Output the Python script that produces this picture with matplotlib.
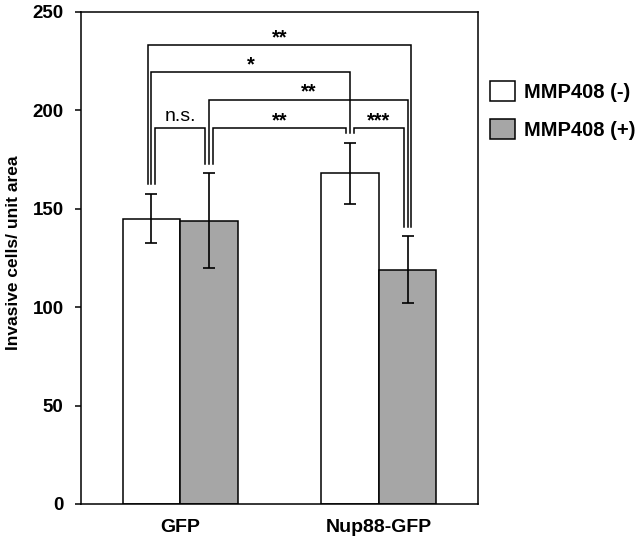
import matplotlib
matplotlib.use('Agg')
import matplotlib.pyplot as plt
import numpy as np

plt.rcParams['font.family'] = ['Liberation Sans', 'DejaVu Sans']

groups = ['GFP', 'Nup88-GFP']
series_labels = ['MMP408 (-)', 'MMP408 (+)']
mmp_minus = [145, 168]
mmp_minus_err = [12.5, 15.5]
mmp_plus = [144, 119]
mmp_plus_err = [24, 17]
y_ticks = [0, 50, 100, 150, 200, 250]

# significance comparisons between bars (0: GFP-, 1: GFP+, 2: Nup88-, 3: Nup88+)
comp_a = [0, 0, 1, 0, 1, 2]
comp_b = [3, 2, 3, 1, 2, 3]
comp_labels = ['**', '*', '**', 'n.s.', '**', '***']

# layout of the brackets
d = 0.018
leg_off_a = [-d, 0, 0, d, d, d]
leg_off_b = [d, 0, 0, -d, -d, -d]
bracket_y = [233, 219.5, 205.5, 191, 191, 191]

fig = plt.figure(figsize=(6.44, 5.43), dpi=100)
ax = fig.add_axes([81/644, 39/543, 397/644, 492/543])

x = np.arange(len(groups))
w = 0.29
ekw = dict(elinewidth=1.2, capthick=1.2, ecolor='black')
ax.bar(x - w/2, mmp_minus, w, color='white', edgecolor='black', linewidth=1.1,
       yerr=mmp_minus_err, capsize=4, error_kw=ekw, label=series_labels[0])
ax.bar(x + w/2, mmp_plus, w, color='#a6a6a6', edgecolor='black', linewidth=1.1,
       yerr=mmp_plus_err, capsize=4, error_kw=ekw, label=series_labels[1])

centers = [x[0] - w/2, x[0] + w/2, x[1] - w/2, x[1] + w/2]
tops = [mmp_minus[0] + mmp_minus_err[0], mmp_plus[0] + mmp_plus_err[0],
        mmp_minus[1] + mmp_minus_err[1], mmp_plus[1] + mmp_plus_err[1]]

for a, b, lab, oa, ob, yb in zip(comp_a, comp_b, comp_labels, leg_off_a, leg_off_b, bracket_y):
    xa = centers[a] + oa
    xb = centers[b] + ob
    ya = tops[a] + 5
    ybb = tops[b] + 5
    ax.plot([xa, xa, xb, xb], [ya, yb, yb, ybb], color='black', lw=1.1,
            solid_joinstyle='miter', clip_on=False)
    if lab == 'n.s.':
        ax.annotate(lab, ((xa + xb) / 2, yb), xytext=(0, 5), textcoords='offset points',
                    ha='center', va='baseline', fontsize=14)
    else:
        ax.annotate(lab, ((xa + xb) / 2, yb), xytext=(0, 1.5), textcoords='offset points',
                    ha='center', va='baseline', fontsize=14.5, fontweight='bold')

ax.set_xlim(-0.5, 1.5)
ax.set_ylim(0, 250)
ax.set_yticks(y_ticks)
ax.set_yticklabels([str(t) for t in y_ticks], fontsize=13.5, fontweight='bold')
ax.set_xticks(x)
ax.set_xticklabels(groups, fontsize=14, fontweight='bold')
ax.tick_params(axis='x', length=0, pad=11)
ax.tick_params(axis='y', length=4.5, width=1.1, pad=8, direction='out')
for s in ax.spines.values():
    s.set_linewidth(1.1)

ax.set_ylabel('Invasive cells/ unit area', fontsize=12.5, fontweight='bold')
ax.yaxis.set_label_coords(-0.152, 0.511)

leg = fig.legend(loc='upper left', bbox_to_anchor=(490/644, 1 - 81/543),
                 frameon=False, prop=dict(size=14.5, weight='bold'),
                 handlelength=1.25, handleheight=1.15, handletextpad=0.45,
                 labelspacing=0.85, borderpad=0, borderaxespad=0)

fig.savefig('out.png', dpi=100)
